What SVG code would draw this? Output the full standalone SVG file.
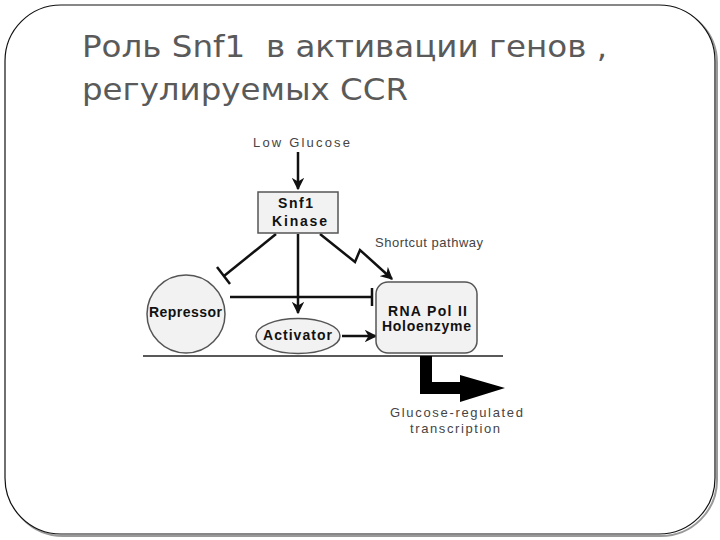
<svg xmlns="http://www.w3.org/2000/svg" width="720" height="540" viewBox="0 0 720 540">
<style>
.title{font-family:"DejaVu Sans Condensed","DejaVu Sans","Liberation Sans",sans-serif;font-size:30px;fill:#5a5a5a;white-space:pre}
.lbl{font-family:"Liberation Sans",Arial,sans-serif;font-size:13px;fill:#444}
.b{font-family:"Liberation Sans",Arial,sans-serif;font-size:14px;font-weight:bold;fill:#111}
.ln{stroke:#111;stroke-width:2.5;fill:none}
.nd{fill:#f2f2f2;stroke:#555;stroke-width:1.5}
</style>
<defs>
<marker id="ah" viewBox="0 0 10 10" refX="9" refY="5" markerWidth="5" markerHeight="5" orient="auto" markerUnits="strokeWidth">
<path d="M0,0 L10,5 L0,10 L3,5 Z" fill="#111"/>
</marker>
</defs>
<rect x="0" y="0" width="720" height="540" fill="#fff"/>
<rect x="7" y="7" width="710" height="529" rx="56" fill="none" stroke="#999" stroke-width="2"/>
<rect x="5" y="5" width="710" height="529" rx="56" fill="#fff" stroke="#111" stroke-width="1.2"/>
<g id="title">
<text class="title" xml:space="preserve" x="82" y="57" textLength="525" lengthAdjust="spacingAndGlyphs">Роль Snf1  в активации генов ,</text>
<text class="title" x="82" y="100" textLength="326" lengthAdjust="spacingAndGlyphs">регулируемых CCR</text>
</g>
<g id="connectors">
<line class="ln" x1="298" y1="152" x2="298" y2="189" marker-end="url(#ah)"/>
<line class="ln" x1="276" y1="234" x2="224" y2="276"/>
<line class="ln" x1="217" y1="267" x2="230" y2="284"/>
<line class="ln" x1="298" y1="234" x2="298" y2="313" marker-end="url(#ah)"/>
<path class="ln" d="M320,234 L355,262 L360,250 L392,279" marker-end="url(#ah)"/>
<line class="ln" x1="230" y1="297" x2="372" y2="297"/>
<line class="ln" x1="372" y1="288" x2="372" y2="306"/>
<line class="ln" x1="342" y1="336" x2="376" y2="336" marker-end="url(#ah)"/>
<line x1="143" y1="356" x2="503" y2="356" stroke="#222" stroke-width="1.5"/>
<path d="M420,356 L432,356 L432,382 L460,382 L460,375 L505,388 L460,402 L460,394 L420,394 Z" fill="#000"/>
</g>
<g id="low-glucose">
<text class="lbl" x="253" y="147" textLength="97" lengthAdjust="spacing">Low Glucose</text>
</g>
<g id="snf1">
<rect class="nd" x="258" y="192" width="80" height="41"/>
<text class="b" x="278" y="208" textLength="35" lengthAdjust="spacing">Snf1</text>
<text class="b" x="272" y="226" textLength="55" lengthAdjust="spacing">Kinase</text>
</g>
<g id="shortcut">
<text class="lbl" x="375" y="247" font-size="11" textLength="108" lengthAdjust="spacing">Shortcut pathway</text>
</g>
<g id="repressor">
<circle class="nd" cx="186" cy="314" r="39"/>
<text class="b" x="149" y="317" font-size="13" textLength="73" lengthAdjust="spacing">Repressor</text>
</g>
<g id="activator">
<ellipse class="nd" cx="298" cy="336" rx="42" ry="17.5"/>
<text class="b" x="263" y="340" textLength="69" lengthAdjust="spacing">Activator</text>
</g>
<g id="rnapol">
<rect class="nd" x="376" y="282" width="101" height="71" rx="12"/>
<text class="b" x="388" y="316" textLength="79" lengthAdjust="spacing">RNA Pol II</text>
<text class="b" x="382" y="331" textLength="89" lengthAdjust="spacing">Holoenzyme</text>
</g>
<g id="output">
<text class="lbl" x="390" y="417" textLength="133" lengthAdjust="spacing">Glucose-regulated</text>
<text class="lbl" x="410" y="433" textLength="90" lengthAdjust="spacing">transcription</text>
</g>
</svg>
